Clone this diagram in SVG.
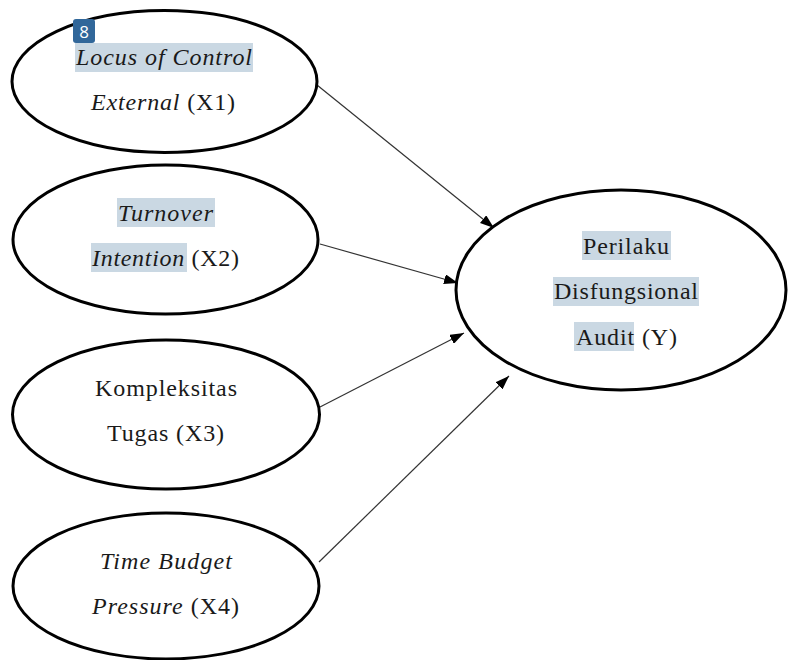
<svg xmlns="http://www.w3.org/2000/svg" width="788" height="660" viewBox="0 0 788 660">
<style>
  .node { fill: #ffffff; stroke: #000000; stroke-width: 3; }
  .lbl { font-family: "Liberation Serif", "Times New Roman", "DejaVu Serif", serif; font-size: 24px; fill: #1a1a1a; }
  .it { font-style: italic; }
  .hl { fill: #cad8e3; }
  .edge { stroke: #333333; stroke-width: 1.2; fill: none; marker-end: url(#arrow); }
</style>
<defs>
  <marker id="arrow" viewBox="0 0 14 10" refX="14" refY="5" markerWidth="14" markerHeight="10" markerUnits="userSpaceOnUse" orient="auto">
    <path d="M0,0 L14,5 L0,10 Z" fill="#000000"/>
  </marker>
</defs>
<rect width="788" height="660" fill="#ffffff"/>

<g id="connectors">
  <line class="edge" x1="317" y1="85" x2="494" y2="228"/>
  <line class="edge" x1="320" y1="244" x2="458" y2="283"/>
  <line class="edge" x1="320" y1="407" x2="464" y2="333"/>
  <line class="edge" x1="319" y1="562" x2="509" y2="376"/>
</g>

<g id="x1">
  <ellipse class="node" cx="164.5" cy="81.5" rx="152.5" ry="71"/>
  <rect class="hl" x="75" y="43" width="178" height="29"/>
  <text class="lbl it" x="76" y="65" textLength="176" lengthAdjust="spacing">Locus of Control</text>
  <text class="lbl" x="91" y="110" textLength="144" lengthAdjust="spacing"><tspan class="it">External</tspan> (X1)</text>
</g>

<g id="badge">
  <rect x="73" y="19" width="22" height="24" rx="3" fill="#31679a"/>
  <text x="84" y="38" text-anchor="middle" font-family="'Open Sans', 'DejaVu Sans', sans-serif" font-size="17" fill="#ffffff">8</text>
</g>

<g id="x2">
  <ellipse class="node" cx="165.5" cy="239.5" rx="152.5" ry="74.5"/>
  <rect class="hl" x="117" y="198" width="98" height="29"/>
  <rect class="hl" x="91" y="243" width="96" height="29"/>
  <text class="lbl it" x="118" y="221" textLength="95" lengthAdjust="spacing">Turnover</text>
  <text class="lbl" x="92" y="266" textLength="147" lengthAdjust="spacing"><tspan class="it">Intention</tspan> (X2)</text>
</g>

<g id="x3">
  <ellipse class="node" cx="166" cy="414.5" rx="153.5" ry="74.5"/>
  <text class="lbl" x="95" y="396" textLength="142" lengthAdjust="spacing">Kompleksitas</text>
  <text class="lbl" x="107" y="441" textLength="117" lengthAdjust="spacing">Tugas (X3)</text>
</g>

<g id="x4">
  <ellipse class="node" cx="166" cy="586" rx="153" ry="73"/>
  <text class="lbl it" x="100" y="569" textLength="132" lengthAdjust="spacing">Time Budget</text>
  <text class="lbl" x="92" y="614" textLength="147" lengthAdjust="spacing"><tspan class="it">Pressure</tspan> (X4)</text>
</g>

<g id="y">
  <ellipse class="node" cx="621" cy="290" rx="165" ry="100"/>
  <rect class="hl" x="582" y="231" width="89" height="29"/>
  <rect class="hl" x="553" y="277" width="146" height="29"/>
  <rect class="hl" x="574" y="322" width="60" height="29"/>
  <text class="lbl" x="583" y="254" textLength="86" lengthAdjust="spacing">Perilaku</text>
  <text class="lbl" x="554" y="299" textLength="144" lengthAdjust="spacing">Disfungsional</text>
  <text class="lbl" x="576" y="345" textLength="101" lengthAdjust="spacing">Audit (Y)</text>
</g>
</svg>
